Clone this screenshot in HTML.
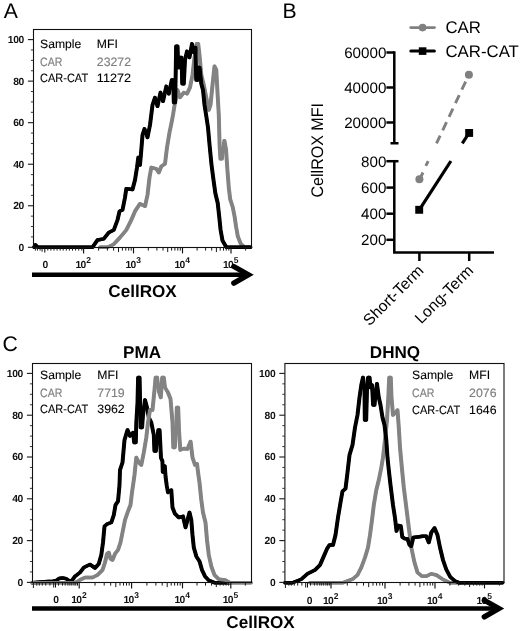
<!DOCTYPE html>
<html><head><meta charset="utf-8"><title>CellROX figure</title>
<style>
html,body{margin:0;padding:0;background:#fff;}
svg{display:block;will-change:transform;}
text{font-family:"Liberation Sans",sans-serif;fill:#000;text-rendering:geometricPrecision;}
.tk{font-size:10.3px;font-weight:bold;fill:#111;letter-spacing:-0.3px;}
.tx{letter-spacing:-0.75px;}
.lg{font-size:12.1px;stroke:#000;stroke-width:0.1px;}
.pl{font-size:21.2px;}
.ax{font-size:17.1px;font-weight:bold;}
.bt{font-size:15.2px;}
.bl{font-size:16.8px;}
.bx{font-size:15.7px;}
</style></head><body>
<svg width="520" height="631" viewBox="0 0 520 631">
<rect width="520" height="631" fill="#fff"/>
<text x="3.8" y="17.8" class="pl">A</text>
<g fill="none" stroke="#838383" stroke-width="3.4" stroke-linejoin="round" stroke-linecap="round"><polyline transform="translate(-0.28,0)" points="100.0,247.2 107.5,247.2 113.8,244.2 120.0,237.5 126.3,230.0 131.3,220.0 135.0,211.3 140.0,203.8 145.0,206.3 147.5,195.0 149.5,177.5 151.3,167.5 156.3,168.8 158.8,172.5 161.3,166.3 165.0,163.8 167.0,147.5 169.5,132.5 171.3,123.8 173.0,115.0 175.0,102.5 177.5,90.0 180.0,97.5 183.8,92.5 187.0,93.8 190.0,87.5 192.5,75.0 194.5,57.5 196.8,43.8 198.2,43.8 199.5,55.0 201.3,75.0 203.8,85.0 206.3,97.5 208.8,110.0 210.5,105.0 212.5,85.0 214.5,66.3 216.3,70.0 217.5,92.5 218.8,115.0 219.6,145.4 220.4,158.8 221.9,158.8 223.0,149.2 224.4,140.6 226.0,149.2 227.3,168.5 228.8,187.7 230.2,199.2 232.7,207.0 234.6,216.5 236.0,226.2 237.9,236.7 240.8,243.9 244.6,247.2 250.4,247.2"/><polyline transform="translate(0.28,0)" points="100.0,247.2 107.5,247.2 113.8,244.2 120.0,237.5 126.3,230.0 131.3,220.0 135.0,211.3 140.0,203.8 145.0,206.3 147.5,195.0 149.5,177.5 151.3,167.5 156.3,168.8 158.8,172.5 161.3,166.3 165.0,163.8 167.0,147.5 169.5,132.5 171.3,123.8 173.0,115.0 175.0,102.5 177.5,90.0 180.0,97.5 183.8,92.5 187.0,93.8 190.0,87.5 192.5,75.0 194.5,57.5 196.8,43.8 198.2,43.8 199.5,55.0 201.3,75.0 203.8,85.0 206.3,97.5 208.8,110.0 210.5,105.0 212.5,85.0 214.5,66.3 216.3,70.0 217.5,92.5 218.8,115.0 219.6,145.4 220.4,158.8 221.9,158.8 223.0,149.2 224.4,140.6 226.0,149.2 227.3,168.5 228.8,187.7 230.2,199.2 232.7,207.0 234.6,216.5 236.0,226.2 237.9,236.7 240.8,243.9 244.6,247.2 250.4,247.2"/></g>
<g fill="none" stroke="#000" stroke-width="3.4" stroke-linejoin="round" stroke-linecap="round"><polyline transform="translate(-0.28,0)" points="34.0,247.2 35.5,244.9 37.5,247.2 40.0,247.2 85.0,247.2 92.5,247.2 97.5,240.0 103.8,238.8 108.8,232.5 113.8,230.0 117.5,220.0 119.5,211.3 122.5,210.0 125.0,197.5 126.3,188.8 132.5,189.5 135.0,180.0 137.0,167.5 138.3,157.5 140.0,165.0 141.3,150.0 142.5,135.0 144.5,128.8 147.5,137.5 150.0,125.0 152.5,105.0 155.0,97.5 157.5,106.3 160.5,92.5 163.0,101.3 166.3,86.3 168.8,93.8 171.8,80.0 173.2,80.0 173.8,102.5 175.2,102.5 175.8,67.5 176.1,46.3 177.6,46.3 178.1,67.5 179.6,67.5 180.1,57.5 181.6,57.5 182.2,83.8 183.8,83.8 185.0,60.0 187.0,51.3 189.5,57.5 192.0,43.8 193.8,52.5 195.5,47.5 196.2,80.0 197.8,80.0 198.1,67.5 199.6,67.5 201.3,83.8 203.0,90.0 204.5,105.0 206.3,116.3 208.0,127.5 209.6,145.4 211.5,164.6 213.5,180.0 215.4,193.5 217.7,203.0 219.2,216.5 220.6,230.0 222.5,240.6 226.3,247.2 250.4,247.2"/><polyline transform="translate(0.28,0)" points="34.0,247.2 35.5,244.9 37.5,247.2 40.0,247.2 85.0,247.2 92.5,247.2 97.5,240.0 103.8,238.8 108.8,232.5 113.8,230.0 117.5,220.0 119.5,211.3 122.5,210.0 125.0,197.5 126.3,188.8 132.5,189.5 135.0,180.0 137.0,167.5 138.3,157.5 140.0,165.0 141.3,150.0 142.5,135.0 144.5,128.8 147.5,137.5 150.0,125.0 152.5,105.0 155.0,97.5 157.5,106.3 160.5,92.5 163.0,101.3 166.3,86.3 168.8,93.8 171.8,80.0 173.2,80.0 173.8,102.5 175.2,102.5 175.8,67.5 176.1,46.3 177.6,46.3 178.1,67.5 179.6,67.5 180.1,57.5 181.6,57.5 182.2,83.8 183.8,83.8 185.0,60.0 187.0,51.3 189.5,57.5 192.0,43.8 193.8,52.5 195.5,47.5 196.2,80.0 197.8,80.0 198.1,67.5 199.6,67.5 201.3,83.8 203.0,90.0 204.5,105.0 206.3,116.3 208.0,127.5 209.6,145.4 211.5,164.6 213.5,180.0 215.4,193.5 217.7,203.0 219.2,216.5 220.6,230.0 222.5,240.6 226.3,247.2 250.4,247.2"/></g>
<rect x="33.5" y="29.5" width="218.0" height="218.0" fill="none" stroke="#111" stroke-width="1.1"/>
<line x1="27.9" y1="247.30" x2="33.5" y2="247.30" stroke="#1a1a1a" stroke-width="1.1"/>
<line x1="30.9" y1="236.92" x2="33.5" y2="236.92" stroke="#222" stroke-width="0.9"/>
<line x1="30.9" y1="226.53" x2="33.5" y2="226.53" stroke="#222" stroke-width="0.9"/>
<line x1="30.9" y1="216.15" x2="33.5" y2="216.15" stroke="#222" stroke-width="0.9"/>
<line x1="27.9" y1="205.76" x2="33.5" y2="205.76" stroke="#1a1a1a" stroke-width="1.1"/>
<line x1="30.9" y1="195.38" x2="33.5" y2="195.38" stroke="#222" stroke-width="0.9"/>
<line x1="30.9" y1="184.99" x2="33.5" y2="184.99" stroke="#222" stroke-width="0.9"/>
<line x1="30.9" y1="174.61" x2="33.5" y2="174.61" stroke="#222" stroke-width="0.9"/>
<line x1="27.9" y1="164.22" x2="33.5" y2="164.22" stroke="#1a1a1a" stroke-width="1.1"/>
<line x1="30.9" y1="153.84" x2="33.5" y2="153.84" stroke="#222" stroke-width="0.9"/>
<line x1="30.9" y1="143.45" x2="33.5" y2="143.45" stroke="#222" stroke-width="0.9"/>
<line x1="30.9" y1="133.06" x2="33.5" y2="133.06" stroke="#222" stroke-width="0.9"/>
<line x1="27.9" y1="122.68" x2="33.5" y2="122.68" stroke="#1a1a1a" stroke-width="1.1"/>
<line x1="30.9" y1="112.30" x2="33.5" y2="112.30" stroke="#222" stroke-width="0.9"/>
<line x1="30.9" y1="101.91" x2="33.5" y2="101.91" stroke="#222" stroke-width="0.9"/>
<line x1="30.9" y1="91.53" x2="33.5" y2="91.53" stroke="#222" stroke-width="0.9"/>
<line x1="27.9" y1="81.14" x2="33.5" y2="81.14" stroke="#1a1a1a" stroke-width="1.1"/>
<line x1="30.9" y1="70.76" x2="33.5" y2="70.76" stroke="#222" stroke-width="0.9"/>
<line x1="30.9" y1="60.37" x2="33.5" y2="60.37" stroke="#222" stroke-width="0.9"/>
<line x1="30.9" y1="49.99" x2="33.5" y2="49.99" stroke="#222" stroke-width="0.9"/>
<line x1="27.9" y1="39.60" x2="33.5" y2="39.60" stroke="#1a1a1a" stroke-width="1.1"/>
<text x="24.0" y="250.70" text-anchor="end" class="tk">0</text>
<text x="24.0" y="209.16" text-anchor="end" class="tk">20</text>
<text x="24.0" y="167.62" text-anchor="end" class="tk">40</text>
<text x="24.0" y="126.08" text-anchor="end" class="tk">60</text>
<text x="24.0" y="84.54" text-anchor="end" class="tk">80</text>
<text x="24.0" y="43.00" text-anchor="end" class="tk">100</text>
<line x1="83.6" y1="247.5" x2="83.6" y2="253.4" stroke="#111" stroke-width="1.15"/>
<line x1="98.6" y1="247.5" x2="98.6" y2="250.6" stroke="#1a1a1a" stroke-width="1"/>
<line x1="107.4" y1="247.5" x2="107.4" y2="250.6" stroke="#1a1a1a" stroke-width="1"/>
<line x1="113.6" y1="247.5" x2="113.6" y2="250.6" stroke="#1a1a1a" stroke-width="1"/>
<line x1="118.5" y1="247.5" x2="118.5" y2="252.1" stroke="#1a1a1a" stroke-width="1"/>
<line x1="122.4" y1="247.5" x2="122.4" y2="250.6" stroke="#1a1a1a" stroke-width="1"/>
<line x1="125.8" y1="247.5" x2="125.8" y2="250.6" stroke="#1a1a1a" stroke-width="1"/>
<line x1="128.7" y1="247.5" x2="128.7" y2="250.6" stroke="#1a1a1a" stroke-width="1"/>
<line x1="131.2" y1="247.5" x2="131.2" y2="250.6" stroke="#1a1a1a" stroke-width="1"/>
<line x1="133.5" y1="247.5" x2="133.5" y2="253.4" stroke="#111" stroke-width="1.15"/>
<line x1="148.3" y1="247.5" x2="148.3" y2="250.6" stroke="#1a1a1a" stroke-width="1"/>
<line x1="156.9" y1="247.5" x2="156.9" y2="250.6" stroke="#1a1a1a" stroke-width="1"/>
<line x1="163.0" y1="247.5" x2="163.0" y2="250.6" stroke="#1a1a1a" stroke-width="1"/>
<line x1="167.7" y1="247.5" x2="167.7" y2="252.1" stroke="#1a1a1a" stroke-width="1"/>
<line x1="171.6" y1="247.5" x2="171.6" y2="250.6" stroke="#1a1a1a" stroke-width="1"/>
<line x1="174.9" y1="247.5" x2="174.9" y2="250.6" stroke="#1a1a1a" stroke-width="1"/>
<line x1="177.8" y1="247.5" x2="177.8" y2="250.6" stroke="#1a1a1a" stroke-width="1"/>
<line x1="180.3" y1="247.5" x2="180.3" y2="250.6" stroke="#1a1a1a" stroke-width="1"/>
<line x1="182.5" y1="247.5" x2="182.5" y2="253.4" stroke="#111" stroke-width="1.15"/>
<line x1="197.1" y1="247.5" x2="197.1" y2="250.6" stroke="#1a1a1a" stroke-width="1"/>
<line x1="205.6" y1="247.5" x2="205.6" y2="250.6" stroke="#1a1a1a" stroke-width="1"/>
<line x1="211.7" y1="247.5" x2="211.7" y2="250.6" stroke="#1a1a1a" stroke-width="1"/>
<line x1="216.4" y1="247.5" x2="216.4" y2="252.1" stroke="#1a1a1a" stroke-width="1"/>
<line x1="220.2" y1="247.5" x2="220.2" y2="250.6" stroke="#1a1a1a" stroke-width="1"/>
<line x1="223.5" y1="247.5" x2="223.5" y2="250.6" stroke="#1a1a1a" stroke-width="1"/>
<line x1="226.3" y1="247.5" x2="226.3" y2="250.6" stroke="#1a1a1a" stroke-width="1"/>
<line x1="228.8" y1="247.5" x2="228.8" y2="250.6" stroke="#1a1a1a" stroke-width="1"/>
<line x1="231.0" y1="247.5" x2="231.0" y2="253.4" stroke="#111" stroke-width="1.15"/>
<line x1="245.6" y1="247.5" x2="245.6" y2="250.6" stroke="#1a1a1a" stroke-width="1"/>
<line x1="44.8" y1="247.5" x2="44.8" y2="252.5" stroke="#111" stroke-width="1.1"/>
<line x1="47.8" y1="247.5" x2="47.8" y2="250.6" stroke="#1a1a1a" stroke-width="1"/>
<line x1="50.9" y1="247.5" x2="50.9" y2="250.6" stroke="#1a1a1a" stroke-width="1"/>
<line x1="54.0" y1="247.5" x2="54.0" y2="250.6" stroke="#1a1a1a" stroke-width="1"/>
<line x1="57.1" y1="247.5" x2="57.1" y2="250.6" stroke="#1a1a1a" stroke-width="1"/>
<line x1="60.2" y1="247.5" x2="60.2" y2="250.6" stroke="#1a1a1a" stroke-width="1"/>
<line x1="63.2" y1="247.5" x2="63.2" y2="250.6" stroke="#1a1a1a" stroke-width="1"/>
<line x1="66.3" y1="247.5" x2="66.3" y2="250.6" stroke="#1a1a1a" stroke-width="1"/>
<line x1="69.4" y1="247.5" x2="69.4" y2="250.6" stroke="#1a1a1a" stroke-width="1"/>
<line x1="72.5" y1="247.5" x2="72.5" y2="250.6" stroke="#1a1a1a" stroke-width="1"/>
<line x1="75.6" y1="247.5" x2="75.6" y2="250.6" stroke="#1a1a1a" stroke-width="1"/>
<line x1="78.7" y1="247.5" x2="78.7" y2="250.6" stroke="#1a1a1a" stroke-width="1"/>
<line x1="81.8" y1="247.5" x2="81.8" y2="250.6" stroke="#1a1a1a" stroke-width="1"/>
<line x1="42.1" y1="247.5" x2="42.1" y2="251.7" stroke="#1a1a1a" stroke-width="1"/>
<line x1="40.1" y1="247.5" x2="40.1" y2="250.6" stroke="#1a1a1a" stroke-width="1"/>
<line x1="37.4" y1="247.5" x2="37.4" y2="250.6" stroke="#1a1a1a" stroke-width="1"/>
<line x1="35.4" y1="247.5" x2="35.4" y2="250.6" stroke="#1a1a1a" stroke-width="1"/>
<text x="45.3" y="268" text-anchor="middle" class="tk">0</text>
<text x="75.6" y="268" class="tk tx">10<tspan dy="-5" dx="0.8" font-size="8.5">2</tspan></text>
<text x="125.5" y="268" class="tk tx">10<tspan dy="-5" dx="0.8" font-size="8.5">3</tspan></text>
<text x="174.5" y="268" class="tk tx">10<tspan dy="-5" dx="0.8" font-size="8.5">4</tspan></text>
<text x="223.0" y="268" class="tk tx">10<tspan dy="-5" dx="0.8" font-size="8.5">5</tspan></text>
<text x="40.1" y="47.5" class="lg" textLength="41.2" lengthAdjust="spacingAndGlyphs">Sample</text>
<text x="96.8" y="47.5" class="lg" textLength="21" lengthAdjust="spacingAndGlyphs">MFI</text>
<text x="40.1" y="65.5" class="lg" style="fill:#7e7e7e;stroke:#7e7e7e;stroke-width:0.15px" textLength="22.3" lengthAdjust="spacingAndGlyphs">CAR</text>
<text x="96.8" y="65.5" class="lg" style="fill:#7e7e7e;stroke:#7e7e7e;stroke-width:0.15px" textLength="34.2" lengthAdjust="spacingAndGlyphs">23272</text>
<text x="40.1" y="82.1" class="lg" textLength="48" lengthAdjust="spacingAndGlyphs">CAR-CAT</text>
<text x="96.8" y="82.1" class="lg" textLength="34.2" lengthAdjust="spacingAndGlyphs">11272</text>
<line x1="32" y1="274.7" x2="248.4" y2="274.7" stroke="#000" stroke-width="4.6"/><polyline points="233.8,266.5 248.4,274.7 233.8,283.1" fill="none" stroke="#000" stroke-width="5.3" stroke-linecap="round" stroke-linejoin="miter"/>
<text x="108.3" y="296.6" class="ax">CellROX</text>
<text x="282.4" y="17.5" class="pl">B</text>
<line x1="410.7" y1="27.6" x2="434.5" y2="27.6" stroke="#808080" stroke-width="2.7" stroke-linecap="round"/><circle cx="422.6" cy="27.6" r="3.85" fill="#808080"/>
<text x="445.5" y="33.3" class="bl">CAR</text>
<line x1="410.8" y1="51.1" x2="434.4" y2="51.1" stroke="#000" stroke-width="3" stroke-linecap="round"/><rect x="418.8" y="47.3" width="7.6" height="7.6" fill="#000"/>
<text x="445.5" y="57.3" class="bl">CAR-CAT</text>
<path d="M394.3,51.3 V143.2 M390.5,143.2 H398.5 M394.3,160 V253.6 M393.1,252.4 H494" fill="none" stroke="#000" stroke-width="2.5"/>
<line x1="386.4" y1="52.5" x2="394.3" y2="52.5" stroke="#000" stroke-width="2.5"/>
<line x1="386.4" y1="87.5" x2="394.3" y2="87.5" stroke="#000" stroke-width="2.5"/>
<line x1="386.4" y1="122.5" x2="394.3" y2="122.5" stroke="#000" stroke-width="2.5"/>
<line x1="386.4" y1="161.2" x2="398.5" y2="161.2" stroke="#000" stroke-width="2.5"/>
<line x1="386.4" y1="187.6" x2="394.3" y2="187.6" stroke="#000" stroke-width="2.5"/>
<line x1="386.4" y1="213.7" x2="394.3" y2="213.7" stroke="#000" stroke-width="2.5"/>
<line x1="386.4" y1="239.8" x2="394.3" y2="239.8" stroke="#000" stroke-width="2.5"/>
<line x1="419.4" y1="252.4" x2="419.4" y2="261" stroke="#000" stroke-width="2.5"/>
<line x1="469.2" y1="252.4" x2="469.2" y2="261" stroke="#000" stroke-width="2.5"/>
<text x="386.4" y="57.9" text-anchor="end" class="bt">60000</text>
<text x="386.4" y="92.9" text-anchor="end" class="bt">40000</text>
<text x="386.4" y="127.9" text-anchor="end" class="bt">20000</text>
<text x="386.4" y="166.6" text-anchor="end" class="bt">800</text>
<text x="386.4" y="193.0" text-anchor="end" class="bt">600</text>
<text x="386.4" y="219.1" text-anchor="end" class="bt">400</text>
<text x="386.4" y="245.2" text-anchor="end" class="bt">200</text>
<text transform="translate(323.2,197.5) rotate(-90)" class="bl" textLength="94.5" lengthAdjust="spacingAndGlyphs">CellROX MFI</text>
<text transform="translate(424.4,271.6) rotate(-45)" text-anchor="end" class="bx">Short-Term</text>
<text transform="translate(474.2,271.6) rotate(-45)" text-anchor="end" class="bx">Long-Term</text>
<line x1="468.9" y1="74.7" x2="436.5" y2="143.4" stroke="#808080" stroke-width="2.9" stroke-dasharray="9 5.95" stroke-dashoffset="7.35"/>
<line x1="428.2" y1="161.1" x2="425.8" y2="165.9" stroke="#808080" stroke-width="2.9"/>
<line x1="423" y1="172.5" x2="419.5" y2="179.5" stroke="#808080" stroke-width="2.9"/>
<circle cx="468.9" cy="74.7" r="4" fill="#808080"/><circle cx="419.4" cy="179.3" r="4" fill="#808080"/>
<line x1="469" y1="133" x2="462.3" y2="143.4" stroke="#000" stroke-width="3.2"/>
<line x1="450.9" y1="161" x2="419.3" y2="209.8" stroke="#000" stroke-width="3.2"/>
<rect x="465.2" y="129" width="7.9" height="7.9" fill="#000"/><rect x="415.25" y="205.85" width="7.9" height="7.9" fill="#000"/>
<text x="2.4" y="351.2" class="pl">C</text>
<text x="123.1" y="357.9" class="ax">PMA</text>
<text x="369.8" y="357.9" class="ax">DHNQ</text>
<g fill="none" stroke="#000" stroke-width="3.4" stroke-linejoin="round" stroke-linecap="round"><polyline transform="translate(-0.28,0)" points="32.5,582.8 44.0,581.6 53.0,581.2 56.5,580.4 59.0,578.5 62.5,578.0 66.0,578.7 69.0,580.7 71.8,580.7 75.0,576.3 80.0,572.5 83.8,567.5 90.0,564.5 95.0,568.0 98.8,563.8 101.3,555.0 103.0,542.5 104.5,526.3 107.5,523.8 111.3,522.5 113.8,515.0 115.5,505.0 118.0,501.3 119.5,485.0 120.0,470.0 122.5,462.5 124.5,440.0 127.5,430.0 130.0,436.0 133.0,432.5 134.2,442.5 135.8,442.5 136.3,422.5 137.5,402.5 138.1,377.5 139.6,377.5 140.0,397.5 140.6,427.5 142.1,427.5 143.0,415.0 145.0,400.0 147.0,407.5 148.8,417.5 151.3,422.5 153.8,435.0 154.4,451.0 155.9,451.0 158.3,430.0 159.6,430.0 160.2,442.0 161.0,458.0 162.4,461.0 162.8,472.0 164.8,466.0 165.6,477.0 166.8,486.0 168.0,492.5 171.3,490.0 172.5,507.5 175.0,513.8 178.8,517.5 183.0,516.3 185.5,527.5 187.5,520.0 189.5,512.5 191.3,520.0 192.5,535.0 193.8,547.5 196.3,556.3 199.5,561.3 202.0,570.0 205.0,576.3 208.8,580.4 215.0,582.8 230.0,582.8"/><polyline transform="translate(0.28,0)" points="32.5,582.8 44.0,581.6 53.0,581.2 56.5,580.4 59.0,578.5 62.5,578.0 66.0,578.7 69.0,580.7 71.8,580.7 75.0,576.3 80.0,572.5 83.8,567.5 90.0,564.5 95.0,568.0 98.8,563.8 101.3,555.0 103.0,542.5 104.5,526.3 107.5,523.8 111.3,522.5 113.8,515.0 115.5,505.0 118.0,501.3 119.5,485.0 120.0,470.0 122.5,462.5 124.5,440.0 127.5,430.0 130.0,436.0 133.0,432.5 134.2,442.5 135.8,442.5 136.3,422.5 137.5,402.5 138.1,377.5 139.6,377.5 140.0,397.5 140.6,427.5 142.1,427.5 143.0,415.0 145.0,400.0 147.0,407.5 148.8,417.5 151.3,422.5 153.8,435.0 154.4,451.0 155.9,451.0 158.3,430.0 159.6,430.0 160.2,442.0 161.0,458.0 162.4,461.0 162.8,472.0 164.8,466.0 165.6,477.0 166.8,486.0 168.0,492.5 171.3,490.0 172.5,507.5 175.0,513.8 178.8,517.5 183.0,516.3 185.5,527.5 187.5,520.0 189.5,512.5 191.3,520.0 192.5,535.0 193.8,547.5 196.3,556.3 199.5,561.3 202.0,570.0 205.0,576.3 208.8,580.4 215.0,582.8 230.0,582.8"/></g>
<g fill="none" stroke="#838383" stroke-width="3.4" stroke-linejoin="round" stroke-linecap="round"><polyline transform="translate(-0.28,0)" points="32.5,582.8 75.0,582.8 80.0,579.9 85.0,577.5 92.5,577.5 97.5,575.0 102.5,570.0 105.0,562.5 107.0,553.8 108.8,552.5 110.5,558.8 112.5,560.0 115.0,553.8 118.0,550.0 120.5,542.5 122.5,532.5 125.0,520.0 128.0,511.3 130.5,505.0 132.0,492.5 133.8,480.0 134.5,475.0 136.3,457.5 138.8,462.5 141.3,465.0 143.8,452.5 146.3,437.5 148.0,422.5 150.0,410.0 152.5,410.0 154.5,390.0 155.6,377.5 157.1,377.5 158.8,391.3 160.8,397.5 162.2,377.5 163.8,377.5 165.0,387.5 168.0,392.5 170.5,398.8 172.5,422.5 173.3,447.5 174.8,447.5 176.2,427.5 176.8,407.5 178.2,407.5 179.0,430.0 180.3,450.0 183.8,448.5 187.5,449.0 190.6,441.5 192.5,457.5 195.0,465.0 197.0,463.8 198.0,472.0 199.5,482.5 201.3,500.0 203.0,512.5 205.5,522.5 207.0,540.0 208.8,555.0 211.3,566.3 214.5,575.0 218.8,579.2 225.0,579.9 230.0,582.8 251.0,582.8"/><polyline transform="translate(0.28,0)" points="32.5,582.8 75.0,582.8 80.0,579.9 85.0,577.5 92.5,577.5 97.5,575.0 102.5,570.0 105.0,562.5 107.0,553.8 108.8,552.5 110.5,558.8 112.5,560.0 115.0,553.8 118.0,550.0 120.5,542.5 122.5,532.5 125.0,520.0 128.0,511.3 130.5,505.0 132.0,492.5 133.8,480.0 134.5,475.0 136.3,457.5 138.8,462.5 141.3,465.0 143.8,452.5 146.3,437.5 148.0,422.5 150.0,410.0 152.5,410.0 154.5,390.0 155.6,377.5 157.1,377.5 158.8,391.3 160.8,397.5 162.2,377.5 163.8,377.5 165.0,387.5 168.0,392.5 170.5,398.8 172.5,422.5 173.3,447.5 174.8,447.5 176.2,427.5 176.8,407.5 178.2,407.5 179.0,430.0 180.3,450.0 183.8,448.5 187.5,449.0 190.6,441.5 192.5,457.5 195.0,465.0 197.0,463.8 198.0,472.0 199.5,482.5 201.3,500.0 203.0,512.5 205.5,522.5 207.0,540.0 208.8,555.0 211.3,566.3 214.5,575.0 218.8,579.2 225.0,579.9 230.0,582.8 251.0,582.8"/></g>
<rect x="32.5" y="363.5" width="219.0" height="219.0" fill="none" stroke="#111" stroke-width="1.1"/>
<line x1="26.9" y1="582.40" x2="32.5" y2="582.40" stroke="#1a1a1a" stroke-width="1.1"/>
<line x1="29.9" y1="571.95" x2="32.5" y2="571.95" stroke="#222" stroke-width="0.9"/>
<line x1="29.9" y1="561.50" x2="32.5" y2="561.50" stroke="#222" stroke-width="0.9"/>
<line x1="29.9" y1="551.05" x2="32.5" y2="551.05" stroke="#222" stroke-width="0.9"/>
<line x1="26.9" y1="540.60" x2="32.5" y2="540.60" stroke="#1a1a1a" stroke-width="1.1"/>
<line x1="29.9" y1="530.15" x2="32.5" y2="530.15" stroke="#222" stroke-width="0.9"/>
<line x1="29.9" y1="519.70" x2="32.5" y2="519.70" stroke="#222" stroke-width="0.9"/>
<line x1="29.9" y1="509.25" x2="32.5" y2="509.25" stroke="#222" stroke-width="0.9"/>
<line x1="26.9" y1="498.80" x2="32.5" y2="498.80" stroke="#1a1a1a" stroke-width="1.1"/>
<line x1="29.9" y1="488.35" x2="32.5" y2="488.35" stroke="#222" stroke-width="0.9"/>
<line x1="29.9" y1="477.90" x2="32.5" y2="477.90" stroke="#222" stroke-width="0.9"/>
<line x1="29.9" y1="467.45" x2="32.5" y2="467.45" stroke="#222" stroke-width="0.9"/>
<line x1="26.9" y1="457.00" x2="32.5" y2="457.00" stroke="#1a1a1a" stroke-width="1.1"/>
<line x1="29.9" y1="446.55" x2="32.5" y2="446.55" stroke="#222" stroke-width="0.9"/>
<line x1="29.9" y1="436.10" x2="32.5" y2="436.10" stroke="#222" stroke-width="0.9"/>
<line x1="29.9" y1="425.65" x2="32.5" y2="425.65" stroke="#222" stroke-width="0.9"/>
<line x1="26.9" y1="415.20" x2="32.5" y2="415.20" stroke="#1a1a1a" stroke-width="1.1"/>
<line x1="29.9" y1="404.75" x2="32.5" y2="404.75" stroke="#222" stroke-width="0.9"/>
<line x1="29.9" y1="394.30" x2="32.5" y2="394.30" stroke="#222" stroke-width="0.9"/>
<line x1="29.9" y1="383.85" x2="32.5" y2="383.85" stroke="#222" stroke-width="0.9"/>
<line x1="26.9" y1="373.40" x2="32.5" y2="373.40" stroke="#1a1a1a" stroke-width="1.1"/>
<text x="23.0" y="585.80" text-anchor="end" class="tk">0</text>
<text x="23.0" y="544.00" text-anchor="end" class="tk">20</text>
<text x="23.0" y="502.20" text-anchor="end" class="tk">40</text>
<text x="23.0" y="460.40" text-anchor="end" class="tk">60</text>
<text x="23.0" y="418.60" text-anchor="end" class="tk">80</text>
<text x="23.0" y="376.80" text-anchor="end" class="tk">100</text>
<line x1="79.2" y1="582.5" x2="79.2" y2="588.4" stroke="#111" stroke-width="1.15"/>
<line x1="95.0" y1="582.5" x2="95.0" y2="585.6" stroke="#1a1a1a" stroke-width="1"/>
<line x1="104.2" y1="582.5" x2="104.2" y2="585.6" stroke="#1a1a1a" stroke-width="1"/>
<line x1="110.7" y1="582.5" x2="110.7" y2="585.6" stroke="#1a1a1a" stroke-width="1"/>
<line x1="115.8" y1="582.5" x2="115.8" y2="587.1" stroke="#1a1a1a" stroke-width="1"/>
<line x1="120.0" y1="582.5" x2="120.0" y2="585.6" stroke="#1a1a1a" stroke-width="1"/>
<line x1="123.5" y1="582.5" x2="123.5" y2="585.6" stroke="#1a1a1a" stroke-width="1"/>
<line x1="126.5" y1="582.5" x2="126.5" y2="585.6" stroke="#1a1a1a" stroke-width="1"/>
<line x1="129.2" y1="582.5" x2="129.2" y2="585.6" stroke="#1a1a1a" stroke-width="1"/>
<line x1="131.6" y1="582.5" x2="131.6" y2="588.4" stroke="#111" stroke-width="1.15"/>
<line x1="146.9" y1="582.5" x2="146.9" y2="585.6" stroke="#1a1a1a" stroke-width="1"/>
<line x1="155.9" y1="582.5" x2="155.9" y2="585.6" stroke="#1a1a1a" stroke-width="1"/>
<line x1="162.2" y1="582.5" x2="162.2" y2="585.6" stroke="#1a1a1a" stroke-width="1"/>
<line x1="167.2" y1="582.5" x2="167.2" y2="587.1" stroke="#1a1a1a" stroke-width="1"/>
<line x1="171.2" y1="582.5" x2="171.2" y2="585.6" stroke="#1a1a1a" stroke-width="1"/>
<line x1="174.6" y1="582.5" x2="174.6" y2="585.6" stroke="#1a1a1a" stroke-width="1"/>
<line x1="177.6" y1="582.5" x2="177.6" y2="585.6" stroke="#1a1a1a" stroke-width="1"/>
<line x1="180.2" y1="582.5" x2="180.2" y2="585.6" stroke="#1a1a1a" stroke-width="1"/>
<line x1="182.5" y1="582.5" x2="182.5" y2="588.4" stroke="#111" stroke-width="1.15"/>
<line x1="197.0" y1="582.5" x2="197.0" y2="585.6" stroke="#1a1a1a" stroke-width="1"/>
<line x1="205.5" y1="582.5" x2="205.5" y2="585.6" stroke="#1a1a1a" stroke-width="1"/>
<line x1="211.6" y1="582.5" x2="211.6" y2="585.6" stroke="#1a1a1a" stroke-width="1"/>
<line x1="216.3" y1="582.5" x2="216.3" y2="587.1" stroke="#1a1a1a" stroke-width="1"/>
<line x1="220.1" y1="582.5" x2="220.1" y2="585.6" stroke="#1a1a1a" stroke-width="1"/>
<line x1="223.3" y1="582.5" x2="223.3" y2="585.6" stroke="#1a1a1a" stroke-width="1"/>
<line x1="226.1" y1="582.5" x2="226.1" y2="585.6" stroke="#1a1a1a" stroke-width="1"/>
<line x1="228.6" y1="582.5" x2="228.6" y2="585.6" stroke="#1a1a1a" stroke-width="1"/>
<line x1="230.8" y1="582.5" x2="230.8" y2="588.4" stroke="#111" stroke-width="1.15"/>
<line x1="245.3" y1="582.5" x2="245.3" y2="585.6" stroke="#1a1a1a" stroke-width="1"/>
<line x1="53.7" y1="582.5" x2="53.7" y2="587.5" stroke="#111" stroke-width="1"/>
<line x1="55.5" y1="582.5" x2="55.5" y2="587.5" stroke="#111" stroke-width="1"/>
<line x1="58.5" y1="582.5" x2="58.5" y2="585.6" stroke="#1a1a1a" stroke-width="1"/>
<line x1="62.5" y1="582.5" x2="62.5" y2="585.6" stroke="#1a1a1a" stroke-width="1"/>
<line x1="65.2" y1="582.5" x2="65.2" y2="585.6" stroke="#1a1a1a" stroke-width="1"/>
<line x1="67.9" y1="582.5" x2="67.9" y2="585.6" stroke="#1a1a1a" stroke-width="1"/>
<line x1="69.9" y1="582.5" x2="69.9" y2="585.6" stroke="#1a1a1a" stroke-width="1"/>
<line x1="71.8" y1="582.5" x2="71.8" y2="585.6" stroke="#1a1a1a" stroke-width="1"/>
<line x1="74.0" y1="582.5" x2="74.0" y2="585.6" stroke="#1a1a1a" stroke-width="1"/>
<line x1="75.8" y1="582.5" x2="75.8" y2="585.6" stroke="#1a1a1a" stroke-width="1"/>
<line x1="77.5" y1="582.5" x2="77.5" y2="585.6" stroke="#1a1a1a" stroke-width="1"/>
<line x1="49.9" y1="582.5" x2="49.9" y2="585.6" stroke="#1a1a1a" stroke-width="1"/>
<line x1="45.7" y1="582.5" x2="45.7" y2="585.6" stroke="#1a1a1a" stroke-width="1"/>
<line x1="42.3" y1="582.5" x2="42.3" y2="585.6" stroke="#1a1a1a" stroke-width="1"/>
<line x1="39.3" y1="582.5" x2="39.3" y2="585.6" stroke="#1a1a1a" stroke-width="1"/>
<line x1="36.8" y1="582.5" x2="36.8" y2="585.6" stroke="#1a1a1a" stroke-width="1"/>
<line x1="33.4" y1="582.5" x2="33.4" y2="588.0" stroke="#1a1a1a" stroke-width="1"/>
<text x="56.0" y="603.1" text-anchor="middle" class="tk">0</text>
<text x="71.2" y="603.1" class="tk tx">10<tspan dy="-5" dx="0.8" font-size="8.5">2</tspan></text>
<text x="123.6" y="603.1" class="tk tx">10<tspan dy="-5" dx="0.8" font-size="8.5">3</tspan></text>
<text x="174.5" y="603.1" class="tk tx">10<tspan dy="-5" dx="0.8" font-size="8.5">4</tspan></text>
<text x="222.8" y="603.1" class="tk tx">10<tspan dy="-5" dx="0.8" font-size="8.5">5</tspan></text>
<text x="40.1" y="378.6" class="lg" textLength="41.2" lengthAdjust="spacingAndGlyphs">Sample</text>
<text x="97.3" y="378.6" class="lg" textLength="21" lengthAdjust="spacingAndGlyphs">MFI</text>
<text x="40.1" y="396.6" class="lg" style="fill:#7e7e7e;stroke:#7e7e7e;stroke-width:0.15px" textLength="22.3" lengthAdjust="spacingAndGlyphs">CAR</text>
<text x="97.3" y="396.6" class="lg" style="fill:#7e7e7e;stroke:#7e7e7e;stroke-width:0.15px" textLength="27.4" lengthAdjust="spacingAndGlyphs">7719</text>
<text x="40.1" y="413.4" class="lg" textLength="48" lengthAdjust="spacingAndGlyphs">CAR-CAT</text>
<text x="97.3" y="413.4" class="lg" textLength="27.4" lengthAdjust="spacingAndGlyphs">3962</text>
<g fill="none" stroke="#838383" stroke-width="3.4" stroke-linejoin="round" stroke-linecap="round"><polyline transform="translate(-0.28,0)" points="310.0,582.8 325.0,582.8 342.5,582.8 352.5,579.2 357.5,575.0 361.3,567.5 365.0,557.5 368.0,547.5 370.0,535.0 372.0,520.0 373.8,505.0 376.3,490.0 378.8,480.0 381.3,467.5 383.0,457.5 385.0,440.0 387.0,420.0 388.3,397.5 389.2,377.5 390.8,377.5 391.5,397.5 393.0,415.0 395.5,412.5 397.5,410.0 398.8,427.5 400.0,447.5 401.8,467.0 403.8,487.5 406.3,507.5 408.8,527.5 411.3,547.5 414.5,562.5 417.5,572.5 422.0,576.3 426.3,576.3 431.3,573.8 436.3,575.0 442.5,579.2 450.0,582.8 460.0,582.8"/><polyline transform="translate(0.28,0)" points="310.0,582.8 325.0,582.8 342.5,582.8 352.5,579.2 357.5,575.0 361.3,567.5 365.0,557.5 368.0,547.5 370.0,535.0 372.0,520.0 373.8,505.0 376.3,490.0 378.8,480.0 381.3,467.5 383.0,457.5 385.0,440.0 387.0,420.0 388.3,397.5 389.2,377.5 390.8,377.5 391.5,397.5 393.0,415.0 395.5,412.5 397.5,410.0 398.8,427.5 400.0,447.5 401.8,467.0 403.8,487.5 406.3,507.5 408.8,527.5 411.3,547.5 414.5,562.5 417.5,572.5 422.0,576.3 426.3,576.3 431.3,573.8 436.3,575.0 442.5,579.2 450.0,582.8 460.0,582.8"/></g>
<g fill="none" stroke="#000" stroke-width="3.4" stroke-linejoin="round" stroke-linecap="round"><polyline transform="translate(-0.28,0)" points="285.0,582.8 292.5,582.8 301.3,579.2 307.5,573.8 315.0,570.0 320.0,565.0 323.8,556.3 327.0,548.8 329.5,545.0 333.0,545.0 335.5,535.0 338.0,517.5 340.5,502.5 342.5,491.3 345.5,488.8 347.5,472.5 349.5,455.0 352.5,445.0 355.0,427.5 357.5,415.0 359.5,397.5 361.3,385.0 363.0,377.5 364.5,390.0 364.8,420.0 366.2,420.0 367.0,390.0 368.1,377.5 369.6,377.5 370.5,387.5 372.0,385.0 373.1,405.0 374.6,405.0 375.5,392.5 377.0,383.8 378.8,397.5 380.5,405.0 382.5,417.5 384.5,425.0 386.3,440.0 387.5,457.5 388.8,470.0 390.5,485.0 393.0,505.0 395.0,518.0 396.5,531.0 398.2,525.5 400.8,526.0 402.3,537.0 404.5,538.5 407.5,539.0 409.5,545.0 411.2,546.3 413.3,537.5 417.5,537.0 422.5,536.3 426.3,536.3 428.8,542.5 431.3,532.5 434.5,528.0 437.5,535.0 440.0,547.5 443.0,560.0 446.3,569.5 450.3,577.0 455.0,581.0 459.5,582.8 464.0,582.8 502.5,582.8"/><polyline transform="translate(0.28,0)" points="285.0,582.8 292.5,582.8 301.3,579.2 307.5,573.8 315.0,570.0 320.0,565.0 323.8,556.3 327.0,548.8 329.5,545.0 333.0,545.0 335.5,535.0 338.0,517.5 340.5,502.5 342.5,491.3 345.5,488.8 347.5,472.5 349.5,455.0 352.5,445.0 355.0,427.5 357.5,415.0 359.5,397.5 361.3,385.0 363.0,377.5 364.5,390.0 364.8,420.0 366.2,420.0 367.0,390.0 368.1,377.5 369.6,377.5 370.5,387.5 372.0,385.0 373.1,405.0 374.6,405.0 375.5,392.5 377.0,383.8 378.8,397.5 380.5,405.0 382.5,417.5 384.5,425.0 386.3,440.0 387.5,457.5 388.8,470.0 390.5,485.0 393.0,505.0 395.0,518.0 396.5,531.0 398.2,525.5 400.8,526.0 402.3,537.0 404.5,538.5 407.5,539.0 409.5,545.0 411.2,546.3 413.3,537.5 417.5,537.0 422.5,536.3 426.3,536.3 428.8,542.5 431.3,532.5 434.5,528.0 437.5,535.0 440.0,547.5 443.0,560.0 446.3,569.5 450.3,577.0 455.0,581.0 459.5,582.8 464.0,582.8 502.5,582.8"/></g>
<rect x="284.9" y="363.5" width="219.10000000000002" height="219.0" fill="none" stroke="#111" stroke-width="1.1"/>
<line x1="279.29999999999995" y1="582.40" x2="284.9" y2="582.40" stroke="#1a1a1a" stroke-width="1.1"/>
<line x1="282.29999999999995" y1="571.95" x2="284.9" y2="571.95" stroke="#222" stroke-width="0.9"/>
<line x1="282.29999999999995" y1="561.50" x2="284.9" y2="561.50" stroke="#222" stroke-width="0.9"/>
<line x1="282.29999999999995" y1="551.05" x2="284.9" y2="551.05" stroke="#222" stroke-width="0.9"/>
<line x1="279.29999999999995" y1="540.60" x2="284.9" y2="540.60" stroke="#1a1a1a" stroke-width="1.1"/>
<line x1="282.29999999999995" y1="530.15" x2="284.9" y2="530.15" stroke="#222" stroke-width="0.9"/>
<line x1="282.29999999999995" y1="519.70" x2="284.9" y2="519.70" stroke="#222" stroke-width="0.9"/>
<line x1="282.29999999999995" y1="509.25" x2="284.9" y2="509.25" stroke="#222" stroke-width="0.9"/>
<line x1="279.29999999999995" y1="498.80" x2="284.9" y2="498.80" stroke="#1a1a1a" stroke-width="1.1"/>
<line x1="282.29999999999995" y1="488.35" x2="284.9" y2="488.35" stroke="#222" stroke-width="0.9"/>
<line x1="282.29999999999995" y1="477.90" x2="284.9" y2="477.90" stroke="#222" stroke-width="0.9"/>
<line x1="282.29999999999995" y1="467.45" x2="284.9" y2="467.45" stroke="#222" stroke-width="0.9"/>
<line x1="279.29999999999995" y1="457.00" x2="284.9" y2="457.00" stroke="#1a1a1a" stroke-width="1.1"/>
<line x1="282.29999999999995" y1="446.55" x2="284.9" y2="446.55" stroke="#222" stroke-width="0.9"/>
<line x1="282.29999999999995" y1="436.10" x2="284.9" y2="436.10" stroke="#222" stroke-width="0.9"/>
<line x1="282.29999999999995" y1="425.65" x2="284.9" y2="425.65" stroke="#222" stroke-width="0.9"/>
<line x1="279.29999999999995" y1="415.20" x2="284.9" y2="415.20" stroke="#1a1a1a" stroke-width="1.1"/>
<line x1="282.29999999999995" y1="404.75" x2="284.9" y2="404.75" stroke="#222" stroke-width="0.9"/>
<line x1="282.29999999999995" y1="394.30" x2="284.9" y2="394.30" stroke="#222" stroke-width="0.9"/>
<line x1="282.29999999999995" y1="383.85" x2="284.9" y2="383.85" stroke="#222" stroke-width="0.9"/>
<line x1="279.29999999999995" y1="373.40" x2="284.9" y2="373.40" stroke="#1a1a1a" stroke-width="1.1"/>
<text x="275.4" y="585.80" text-anchor="end" class="tk">0</text>
<text x="275.4" y="544.00" text-anchor="end" class="tk">20</text>
<text x="275.4" y="502.20" text-anchor="end" class="tk">40</text>
<text x="275.4" y="460.40" text-anchor="end" class="tk">60</text>
<text x="275.4" y="418.60" text-anchor="end" class="tk">80</text>
<text x="275.4" y="376.80" text-anchor="end" class="tk">100</text>
<line x1="331.0" y1="582.5" x2="331.0" y2="588.4" stroke="#111" stroke-width="1.15"/>
<line x1="347.3" y1="582.5" x2="347.3" y2="585.6" stroke="#1a1a1a" stroke-width="1"/>
<line x1="356.8" y1="582.5" x2="356.8" y2="585.6" stroke="#1a1a1a" stroke-width="1"/>
<line x1="363.5" y1="582.5" x2="363.5" y2="585.6" stroke="#1a1a1a" stroke-width="1"/>
<line x1="368.7" y1="582.5" x2="368.7" y2="587.1" stroke="#1a1a1a" stroke-width="1"/>
<line x1="373.0" y1="582.5" x2="373.0" y2="585.6" stroke="#1a1a1a" stroke-width="1"/>
<line x1="376.6" y1="582.5" x2="376.6" y2="585.6" stroke="#1a1a1a" stroke-width="1"/>
<line x1="379.8" y1="582.5" x2="379.8" y2="585.6" stroke="#1a1a1a" stroke-width="1"/>
<line x1="382.5" y1="582.5" x2="382.5" y2="585.6" stroke="#1a1a1a" stroke-width="1"/>
<line x1="385.0" y1="582.5" x2="385.0" y2="588.4" stroke="#111" stroke-width="1.15"/>
<line x1="400.1" y1="582.5" x2="400.1" y2="585.6" stroke="#1a1a1a" stroke-width="1"/>
<line x1="408.9" y1="582.5" x2="408.9" y2="585.6" stroke="#1a1a1a" stroke-width="1"/>
<line x1="415.1" y1="582.5" x2="415.1" y2="585.6" stroke="#1a1a1a" stroke-width="1"/>
<line x1="419.9" y1="582.5" x2="419.9" y2="587.1" stroke="#1a1a1a" stroke-width="1"/>
<line x1="423.9" y1="582.5" x2="423.9" y2="585.6" stroke="#1a1a1a" stroke-width="1"/>
<line x1="427.3" y1="582.5" x2="427.3" y2="585.6" stroke="#1a1a1a" stroke-width="1"/>
<line x1="430.2" y1="582.5" x2="430.2" y2="585.6" stroke="#1a1a1a" stroke-width="1"/>
<line x1="432.7" y1="582.5" x2="432.7" y2="585.6" stroke="#1a1a1a" stroke-width="1"/>
<line x1="435.0" y1="582.5" x2="435.0" y2="588.4" stroke="#111" stroke-width="1.15"/>
<line x1="449.9" y1="582.5" x2="449.9" y2="585.6" stroke="#1a1a1a" stroke-width="1"/>
<line x1="458.6" y1="582.5" x2="458.6" y2="585.6" stroke="#1a1a1a" stroke-width="1"/>
<line x1="464.8" y1="582.5" x2="464.8" y2="585.6" stroke="#1a1a1a" stroke-width="1"/>
<line x1="469.6" y1="582.5" x2="469.6" y2="587.1" stroke="#1a1a1a" stroke-width="1"/>
<line x1="473.5" y1="582.5" x2="473.5" y2="585.6" stroke="#1a1a1a" stroke-width="1"/>
<line x1="476.8" y1="582.5" x2="476.8" y2="585.6" stroke="#1a1a1a" stroke-width="1"/>
<line x1="479.7" y1="582.5" x2="479.7" y2="585.6" stroke="#1a1a1a" stroke-width="1"/>
<line x1="482.2" y1="582.5" x2="482.2" y2="585.6" stroke="#1a1a1a" stroke-width="1"/>
<line x1="484.5" y1="582.5" x2="484.5" y2="588.4" stroke="#111" stroke-width="1.15"/>
<line x1="499.4" y1="582.5" x2="499.4" y2="585.6" stroke="#1a1a1a" stroke-width="1"/>
<line x1="305.7" y1="582.5" x2="305.7" y2="587.5" stroke="#111" stroke-width="1"/>
<line x1="307.5" y1="582.5" x2="307.5" y2="587.5" stroke="#111" stroke-width="1"/>
<line x1="310.5" y1="582.5" x2="310.5" y2="585.6" stroke="#1a1a1a" stroke-width="1"/>
<line x1="314.4" y1="582.5" x2="314.4" y2="585.6" stroke="#1a1a1a" stroke-width="1"/>
<line x1="317.1" y1="582.5" x2="317.1" y2="585.6" stroke="#1a1a1a" stroke-width="1"/>
<line x1="319.8" y1="582.5" x2="319.8" y2="585.6" stroke="#1a1a1a" stroke-width="1"/>
<line x1="321.7" y1="582.5" x2="321.7" y2="585.6" stroke="#1a1a1a" stroke-width="1"/>
<line x1="323.7" y1="582.5" x2="323.7" y2="585.6" stroke="#1a1a1a" stroke-width="1"/>
<line x1="325.9" y1="582.5" x2="325.9" y2="585.6" stroke="#1a1a1a" stroke-width="1"/>
<line x1="327.6" y1="582.5" x2="327.6" y2="585.6" stroke="#1a1a1a" stroke-width="1"/>
<line x1="329.3" y1="582.5" x2="329.3" y2="585.6" stroke="#1a1a1a" stroke-width="1"/>
<line x1="301.9" y1="582.5" x2="301.9" y2="585.6" stroke="#1a1a1a" stroke-width="1"/>
<line x1="297.7" y1="582.5" x2="297.7" y2="585.6" stroke="#1a1a1a" stroke-width="1"/>
<line x1="294.3" y1="582.5" x2="294.3" y2="585.6" stroke="#1a1a1a" stroke-width="1"/>
<line x1="291.3" y1="582.5" x2="291.3" y2="585.6" stroke="#1a1a1a" stroke-width="1"/>
<line x1="288.8" y1="582.5" x2="288.8" y2="585.6" stroke="#1a1a1a" stroke-width="1"/>
<line x1="285.4" y1="582.5" x2="285.4" y2="588.0" stroke="#1a1a1a" stroke-width="1"/>
<text x="309.5" y="603.5" text-anchor="middle" class="tk">0</text>
<text x="323.0" y="603.5" class="tk tx">10<tspan dy="-5" dx="0.8" font-size="8.5">2</tspan></text>
<text x="377.0" y="603.5" class="tk tx">10<tspan dy="-5" dx="0.8" font-size="8.5">3</tspan></text>
<text x="427.0" y="603.5" class="tk tx">10<tspan dy="-5" dx="0.8" font-size="8.5">4</tspan></text>
<text x="476.5" y="603.5" class="tk tx">10<tspan dy="-5" dx="0.8" font-size="8.5">5</tspan></text>
<text x="412.1" y="378.5" class="lg" textLength="41.2" lengthAdjust="spacingAndGlyphs">Sample</text>
<text x="469.1" y="378.5" class="lg" textLength="21" lengthAdjust="spacingAndGlyphs">MFI</text>
<text x="412.1" y="396.8" class="lg" style="fill:#7e7e7e;stroke:#7e7e7e;stroke-width:0.15px" textLength="22.3" lengthAdjust="spacingAndGlyphs">CAR</text>
<text x="469.1" y="396.8" class="lg" style="fill:#7e7e7e;stroke:#7e7e7e;stroke-width:0.15px" textLength="27.4" lengthAdjust="spacingAndGlyphs">2076</text>
<text x="412.1" y="413.8" class="lg" textLength="48" lengthAdjust="spacingAndGlyphs">CAR-CAT</text>
<text x="469.1" y="413.8" class="lg" textLength="27.4" lengthAdjust="spacingAndGlyphs">1646</text>
<line x1="32" y1="608.5" x2="498.9" y2="608.5" stroke="#000" stroke-width="4.6"/><polyline points="484.3,600.3 498.9,608.5 484.3,616.9" fill="none" stroke="#000" stroke-width="5.3" stroke-linecap="round" stroke-linejoin="miter"/>
<text x="226.3" y="628.3" class="ax">CellROX</text>
</svg></body></html>
